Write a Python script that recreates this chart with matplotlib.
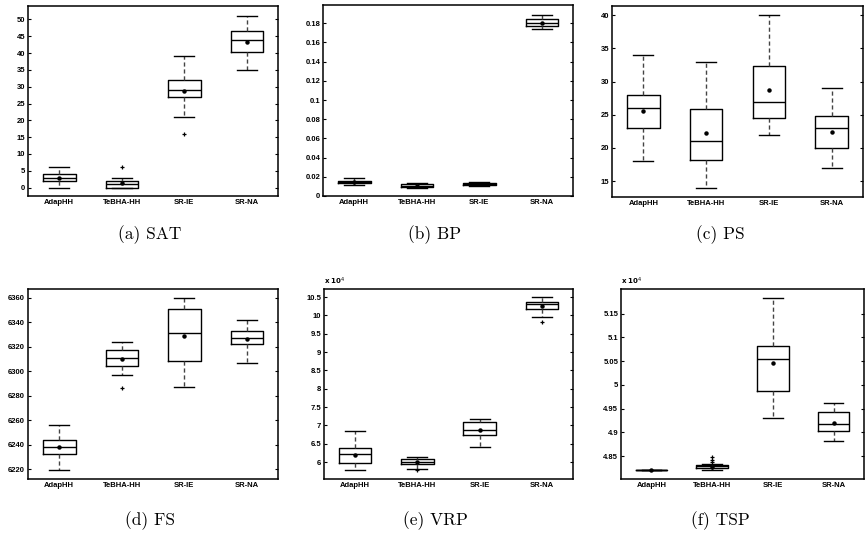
import matplotlib
matplotlib.use("Agg")
import matplotlib.pyplot as plt
from matplotlib.ticker import FixedLocator, FuncFormatter

methods = ["AdapHH", "TeBHA-HH", "SR-IE", "SR-NA"]

# box stats per method: (whislo, q1, med, q3, whishi, mean, fliers)
sat = [(0, 2, 3, 4, 6, 2.9, []),
       (0, 0, 1, 2, 3, 1.4, [6]),
       (21, 27, 29, 32, 39, 28.8, [16]),
       (35, 40.3, 44, 46.5, 51, 43.4, [])]
bp = [(0.0111, 0.0136, 0.0145, 0.0160, 0.0188, 0.0145, []),
      (0.0084, 0.0094, 0.0105, 0.0122, 0.0139, 0.0102, []),
      (0.0108, 0.0111, 0.0120, 0.0139, 0.0143, 0.0122, []),
      (0.1737, 0.1772, 0.1807, 0.1842, 0.1887, 0.1807, [])]
ps = [(18, 23, 26, 28, 34, 25.5, []),
      (14, 18.2, 21, 25.8, 33, 22.3, []),
      (22, 24.5, 27, 32.3, 40, 28.8, []),
      (17, 20, 23, 24.8, 29, 22.4, [])]
fs = [(6219, 6232, 6238, 6244, 6256, 6238, []),
      (6297, 6304, 6311, 6317, 6324, 6310, [6286]),
      (6287, 6308, 6331, 6351, 6360, 6329, []),
      (6307, 6322, 6327, 6333, 6342, 6326.5, [])]
vrp = [(57800, 59700, 62200, 63700, 68600, 61900, []),
       (58200, 59500, 60100, 60700, 61500, 60000, [57800]),
       (64200, 67400, 68700, 70800, 71800, 68800, []),
       (99500, 101800, 103000, 103700, 104900, 102500, [98300])]
tsp = [(48205, 48206, 48207, 48209, 48210, 48215, []),
       (48214, 48249, 48280, 48312, 48330, 48277, [48370, 48420, 48470]),
       (49310, 49860, 50550, 50820, 51820, 50460, []),
       (48810, 49020, 49180, 49430, 49610, 49190, [])]

captions = ["(a) SAT", "(b) BP", "(c) PS", "(d) FS", "(e) VRP", "(f) TSP"]
datasets = [sat, bp, ps, fs, vrp, tsp]
ylims = [(-2.5, 54), (0, 0.199), (12.6, 41.4), (6212, 6367), (55370, 107200), (48016, 52016)]
yticks = [list(range(0, 51, 5)),
          [0, 0.02, 0.04, 0.06, 0.08, 0.1, 0.12, 0.14, 0.16, 0.18],
          [15, 20, 25, 30, 35, 40],
          list(range(6220, 6361, 20)),
          [60000, 65000, 70000, 75000, 80000, 85000, 90000, 95000, 100000, 105000],
          [48500, 49000, 49500, 50000, 50500, 51000, 51500]]
scaled = [False, False, False, False, True, True]

W, H = 865, 542
# axes boxes in pixels: left, right, top, bottom
boxes = [(28, 278, 6, 196), (323, 573, 5, 196), (612, 863, 6, 197),
         (28, 278, 289, 479), (324, 573, 289, 479), (621, 864, 289, 479)]
cap_pos = [(150, 235), (435, 235), (720, 235), (150, 521), (435, 521), (720, 521)]

fig = plt.figure(figsize=(W / 100, H / 100), dpi=100)

for i in range(6):
    l, r, t, b = boxes[i]
    ax = fig.add_axes([l / W, (H - b) / H, (r - l) / W, (b - t) / H])
    stats = []
    for name, s in zip(methods, datasets[i]):
        stats.append(dict(label=name, whislo=s[0], q1=s[1], med=s[2], q3=s[3],
                          whishi=s[4], mean=s[5], fliers=s[6]))
    ax.bxp(stats, widths=0.52, capwidths=0.32, showmeans=True,
           boxprops=dict(color="black", linewidth=1.0),
           medianprops=dict(color="black", linewidth=1.0),
           whiskerprops=dict(color="#444444", linewidth=1.0, linestyle=(0, (3, 2))),
           capprops=dict(color="black", linewidth=1.0),
           meanprops=dict(marker="o", markersize=2.2, markerfacecolor="black",
                          markeredgecolor="black"),
           flierprops=dict(marker="+", markersize=3.5, markeredgecolor="black",
                           markeredgewidth=0.9))
    ax.set_xlim(0.5, 4.5)
    ax.set_ylim(*ylims[i])
    ax.yaxis.set_major_locator(FixedLocator(yticks[i]))
    if scaled[i]:
        ax.yaxis.set_major_formatter(FuncFormatter(lambda v, p: "%g" % round(v / 1e4, 4)))
        ax.text(0.0, 1.012, r"x 10$^4$", transform=ax.transAxes, fontsize=5,
                fontweight="bold", ha="left", va="bottom")
    else:
        ax.yaxis.set_major_formatter(FuncFormatter(lambda v, p: "%g" % round(v, 4)))
    ax.tick_params(axis="y", direction="in", length=2.5, width=0.8, right=True,
                   labelsize=5.5, pad=2)
    ax.tick_params(axis="x", length=0, labelsize=5.5, pad=2)
    for lab in ax.get_xticklabels() + ax.get_yticklabels():
        lab.set_fontweight("bold")
        lab.set_family("Liberation Sans")
    for sp in ax.spines.values():
        sp.set_linewidth(1.1)
    fig.text(cap_pos[i][0] / W, 1 - cap_pos[i][1] / H, captions[i],
             fontsize=12.5, family="cmr10", ha="center", va="center")

fig.savefig("out.png", dpi=100)
